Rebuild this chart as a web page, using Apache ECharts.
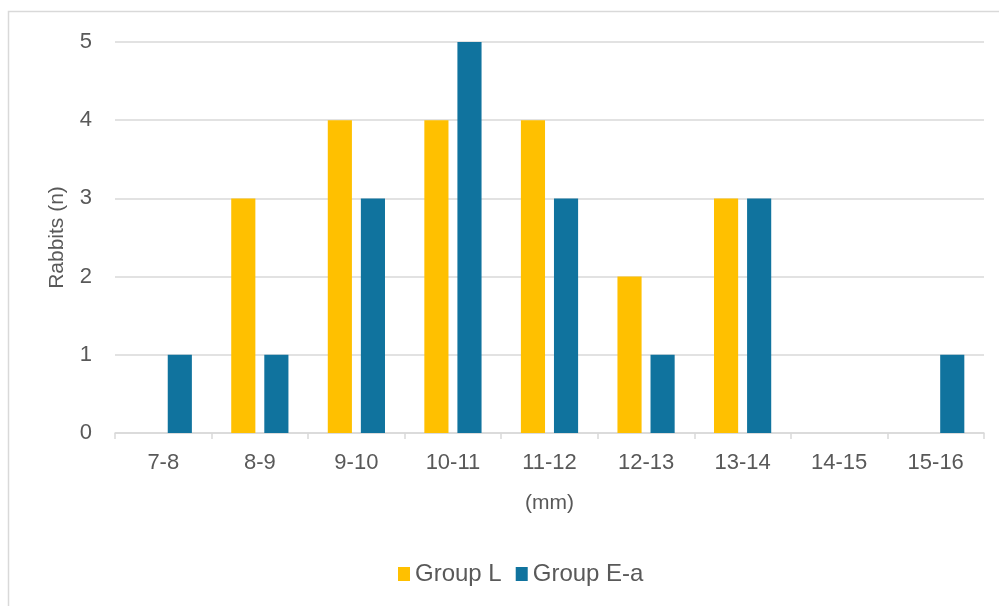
<!DOCTYPE html>
<html>
<head>
<meta charset="utf-8">
<script src="https://cdn.jsdelivr.net/npm/echarts@6/dist/echarts.min.js"></script>
<style>
html,body{margin:0;padding:0;background:#fff;}
#chart{width:999px;height:606px;}
</style>
</head>
<body>
<div id="chart"></div>
<script>
const categories = ['7-8','8-9','9-10','10-11','11-12','12-13','13-14','14-15','15-16'];
const groupL = [0,3,4,4,4,2,3,0,0];
const groupEa = [1,1,3,5,3,1,3,0,1];
const yTicks = [0,1,2,3,4,5];

const chart = echarts.init(document.getElementById('chart'), null, {renderer:'canvas'});
const font = 'Helvetica, "Liberation Sans", Arial, sans-serif';
const txt = '#595959';
chart.setOption({
  animation:false,
  backgroundColor:'#fff',
  graphic:[{type:'rect', shape:{x:8.5,y:11.5,width:1100,height:700}, style:{fill:'none',stroke:'#d9d9d9',lineWidth:1.5}, silent:true}],
  grid:{left:115,right:15,top:42,bottom:173,containLabel:false},
  legend:{
    data:['Group L','Group E-a'],
    left:393, top:557,
    itemWidth:12, itemHeight:14, itemGap:14,
    icon:'rect',
    textStyle:{color:txt,fontSize:24,fontFamily:font}
  },
  xAxis:{
    type:'category', data:categories,
    name:'(mm)', nameLocation:'middle', nameGap:60,
    nameTextStyle:{color:txt,fontSize:21,fontFamily:font},
    axisLine:{lineStyle:{color:'#d9d9d9',width:1.5}},
    axisTick:{show:true,alignWithLabel:false,length:6,inside:false,lineStyle:{color:'#d9d9d9',width:1.5}},
    axisLabel:{color:txt,fontSize:22,fontFamily:font,margin:19}
  },
  yAxis:{
    type:'value', min:0, max:5, interval:1,
    name:'Rabbits (n)', nameLocation:'middle', nameGap:47,
    nameTextStyle:{color:txt,fontSize:21,fontFamily:font},
    axisLine:{show:false}, axisTick:{show:false},
    splitLine:{lineStyle:{color:'#d9d9d9',width:1.5}},
    axisLabel:{color:txt,fontSize:22,fontFamily:font,margin:23,
      formatter:function(v){return yTicks.indexOf(v)>=0?String(v):'';}}
  },
  series:[
    {name:'Group L', type:'bar', data:groupL, barWidth:'25%', barGap:'37%', itemStyle:{color:'#FFC000'}},
    {name:'Group E-a', type:'bar', data:groupEa, barWidth:'25%', barGap:'37%', itemStyle:{color:'#10739E'}}
  ]
});
</script>
</body>
</html>
